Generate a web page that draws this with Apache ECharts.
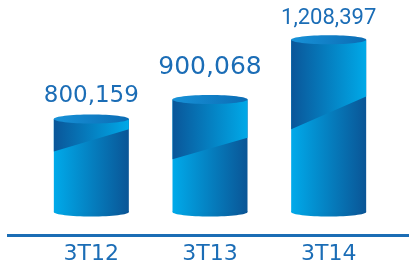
<!DOCTYPE html>
<html>
<head>
<meta charset="utf-8">
<script src="https://cdn.jsdelivr.net/npm/echarts@6/dist/echarts.min.js"></script>
<style>html,body{margin:0;padding:0;background:#fff}#c{width:409px;height:264px}</style>
</head>
<body>
<div id="c"></div>
<script>
var categories = ['3T12', '3T13', '3T14'];
var values = [800159, 900068, 1208397];

// style constants (not data)
var BAR_W = 75, RY = 4.5;
var SPLIT = [[0.35, 0.11], [0.53, 0.34], [0.52, 0.33]];
var LABEL_FONT = [
  {size: 23, family: 'DejaVu Sans', gap: 12},
  {size: 25, family: 'DejaVu Sans', gap: 21},
  {size: 22, family: 'Roboto', gap: 11}
];
var TEXT_COLOR = '#1b6db6';

function fmt(v) { return String(v).replace(/\B(?=(\d{3})+(?!\d))/g, ','); }
function grad(c0, c1) {
  return new echarts.graphic.LinearGradient(0, 0, 1, 0, [{offset: 0, color: c0}, {offset: 1, color: c1}]);
}

var chart = echarts.init(document.getElementById('c'), null, {renderer: 'canvas'});
var yMin = 320000, yMax = 1300000;

chart.setOption({
  animation: false,
  grid: {left: 32, right: 21, top: 22, bottom: 52, outerBoundsMode: 'none', containLabel: false},
  xAxis: {
    type: 'category', data: categories,
    axisLine: {show: false}, axisTick: {show: false},
    axisLabel: {color: TEXT_COLOR, fontSize: 22, fontFamily: 'DejaVu Sans', margin: 31}
  },
  yAxis: {type: 'value', min: yMin, max: yMax, show: false, splitLine: {show: false}},
  graphic: [{
    type: 'rect', shape: {x: 7, y: 234, width: 402, height: 3},
    style: {fill: '#1b6db5'}
  }],
  series: [{
    type: 'custom',
    data: values.map(function (v, i) { return [i, v]; }),
    renderItem: function (params, api) {
      var i = api.value(0);
      var top = api.coord([i, api.value(1)]);
      var base = api.coord([i, yMin]);
      var cx = top[0], x = cx - BAR_W / 2, ty = top[1], by = base[1];
      var h = by - ty;
      var sp = SPLIT[i] || [0.5, 0.3];
      var lf = LABEL_FONT[i] || LABEL_FONT[0];
      return {
        type: 'group',
        children: [
          {type: 'ellipse', shape: {cx: cx, cy: by, rx: BAR_W / 2, ry: RY},
            style: {fill: grad('#00a9e8', '#0a5394')}},
          {type: 'rect', shape: {x: x, y: ty, width: BAR_W, height: h},
            style: {fill: grad('#00aaea', '#0a5596')}},
          {type: 'polygon', shape: {points: [[x, ty], [x + BAR_W, ty], [x + BAR_W, ty + sp[1] * h], [x, ty + sp[0] * h]]},
            style: {fill: grad('#0a5699', '#00a9e8')}},
          {type: 'ellipse', shape: {cx: cx, cy: ty, rx: BAR_W / 2, ry: RY},
            style: {fill: grad('#1792d8', '#0b6cb4')}},
          {type: 'text', x: cx, y: ty - RY - lf.gap + lf.size * 0.22,
            style: {text: fmt(api.value(1)), fill: TEXT_COLOR, fontSize: lf.size, fontFamily: lf.family,
              align: 'center', verticalAlign: 'bottom'}}
        ]
      };
    }
  }]
});
</script>
</body>
</html>
